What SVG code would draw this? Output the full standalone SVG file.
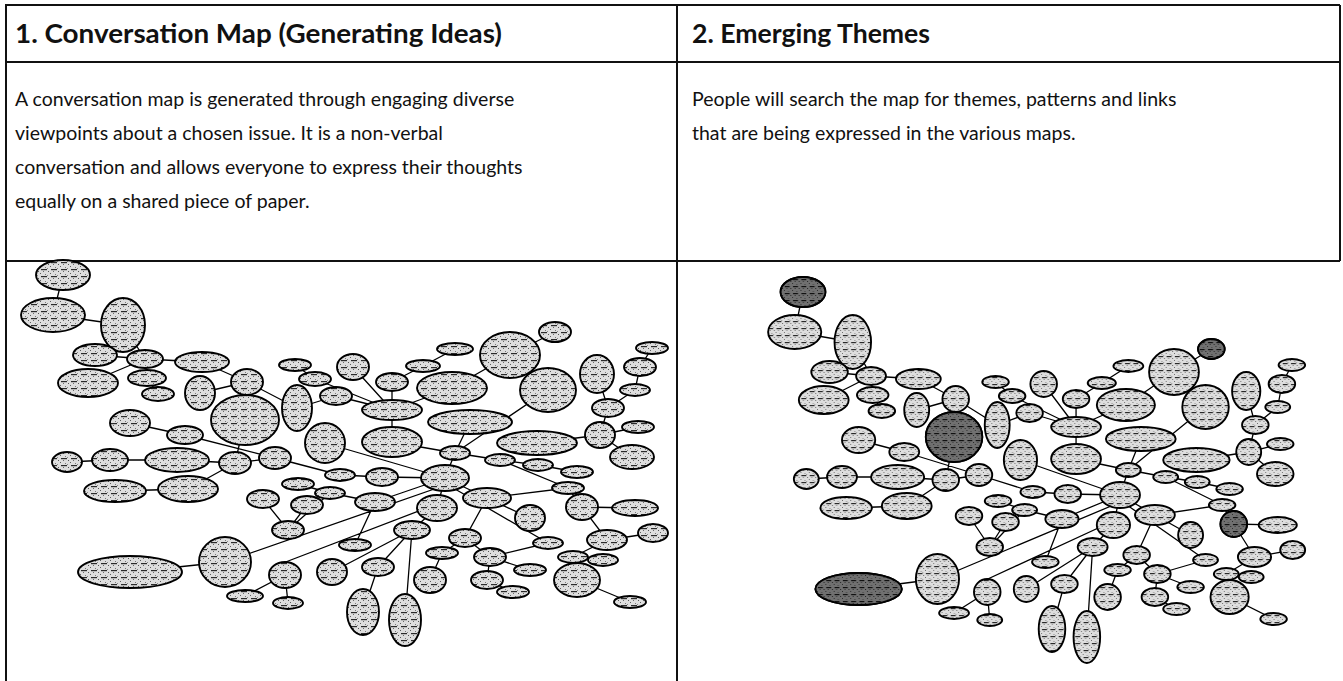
<svg xmlns="http://www.w3.org/2000/svg" width="1343" height="681" viewBox="0 0 1343 681">
<defs>
<style>
.t{font-family:Lato,"Liberation Sans",sans-serif;fill:#111}
.h{font-size:27px;font-weight:700}
.p{font-size:19.5px}
.rule{stroke:#111;stroke-width:2;fill:none}
.b{fill:url(#tx);stroke:#000;stroke-width:1.9;vector-effect:non-scaling-stroke}
.d{fill:url(#txd)}
.e{fill:none;stroke:#000;stroke-width:1.3;vector-effect:non-scaling-stroke}
</style>
<pattern id="tx" width="10" height="7" patternUnits="userSpaceOnUse">
<rect width="10" height="7" fill="#dedede"/>
<rect x="0" y="0" width="1" height="1" fill="#5f5f5f"/>
<rect x="5" y="1" width="1" height="1" fill="#7a7a7a"/>
<rect x="3" y="5" width="1" height="1" fill="#6a6a6a"/>
<rect x="8" y="5" width="1" height="1" fill="#555"/>
<rect x="7" y="2" width="1" height="1" fill="#888"/>
<rect x="1" y="3" width="6" height="1.2" fill="#2a2a2a"/>
</pattern>
<pattern id="txd" width="10" height="7" patternUnits="userSpaceOnUse">
<rect width="10" height="7" fill="#707070"/>
<rect x="0" y="0" width="1" height="1" fill="#222"/>
<rect x="5" y="1" width="1" height="1" fill="#333"/>
<rect x="3" y="5" width="1" height="1" fill="#222"/>
<rect x="8" y="5" width="1" height="1" fill="#111"/>
<rect x="1" y="3" width="6" height="1.2" fill="#111"/>
</pattern>
</defs>
<rect width="1343" height="681" fill="#fff"/>

<g id="table">
<path class="rule" d="M5 5H1340M5 62H1340M5 261H1340M6 5V681M677 5V681M1340 5V261"/>
</g>

<g id="headers">
<text class="t h" x="15" y="43" textLength="487" lengthAdjust="spacingAndGlyphs">1. Conversation Map (Generating Ideas)</text>
<text class="t h" x="692" y="43" textLength="238" lengthAdjust="spacingAndGlyphs">2. Emerging Themes</text>
</g>

<g id="descriptions">
<text class="t p" x="15" y="106">A conversation map is generated through engaging diverse</text>
<text class="t p" x="15" y="140">viewpoints about a chosen issue. It is a non-verbal</text>
<text class="t p" x="15" y="174">conversation and allows everyone to express their thoughts</text>
<text class="t p" x="15" y="208">equally on a shared piece of paper.</text>
<text class="t p" x="692" y="106">People will search the map for themes, patterns and links</text>
<text class="t p" x="692" y="140">that are being expressed in the various maps.</text>
</g>

<g id="mapL">
<g id="connectors">
<path class="e" d="M63 275L53 315M53 315L123 325M123 325L145 359M95 355L145 359M145 359L202 362M145 359L147 378M88 383L145 359M147 378L158 394M202 362L247 382M200 393L247 382M247 382L297 408M295 365L315 379M315 379L392 410M297 408L336 396M336 396L392 410M353 367L392 410M392 382L392 410M392 382L423 366M423 366L455 349M392 410L452 388M452 388L510 355M510 355L555 332M392 410L392 442M392 442L455 453M470 422L455 453M548 390L455 453M455 453L445 478M537 443L600 435M600 435L608 408M608 408L635 390M635 390L640 367M640 367L652 348M597 374L608 408M600 435L632 457M600 435L638 427M245 420L235 463M130 423L185 435M185 435L275 458M325 443L445 478M67 462L110 460M110 460L177 460M177 460L235 463M235 463L275 458M275 458L340 475M340 475L382 477M382 477L445 478M115 491L188 489M188 489L235 463M298 484L330 493M263 499L288 530M307 505L288 530M288 530L330 493M330 493L375 502M375 502L445 478M225 562L130 572M225 562L440 487M283 563L437 504M285 575L245 596M285 575L288 603M437 508L445 478M437 508L412 530M412 530L332 572M412 530L378 567M412 530L405 620M378 567L363 612M375 502L355 545M487 498L445 478M487 498L465 538M487 498L530 518M487 498L568 488M455 489L548 543M490 557L548 543M465 538L442 553M465 538L490 557M442 553L430 580M490 557L487 580M487 580L513 592M490 557L530 570M500 460L455 453M500 460L538 465M538 465L577 472M500 460L568 488M568 488L582 507M582 507L635 508M582 507L607 540M607 540L653 533M607 540L573 557M573 557L603 560M573 557L577 580M577 580L630 602"/>
</g>
<g id="n1"><ellipse class="b" cx="63" cy="275" rx="27" ry="15"/></g>
<g id="n2"><ellipse class="b" cx="53" cy="315" rx="32" ry="17"/></g>
<g id="n3"><ellipse class="b" cx="123" cy="325" rx="22" ry="27"/></g>
<g id="n4"><ellipse class="b" cx="95" cy="355" rx="22" ry="11"/></g>
<g id="n5"><ellipse class="b" cx="145" cy="359" rx="18" ry="9"/></g>
<g id="n6"><ellipse class="b" cx="202" cy="362" rx="27" ry="10"/></g>
<g id="n7"><ellipse class="b" cx="88" cy="383" rx="30" ry="14"/></g>
<g id="n8"><ellipse class="b" cx="147" cy="378" rx="19" ry="8"/></g>
<g id="n9"><ellipse class="b" cx="158" cy="394" rx="16" ry="7"/></g>
<g id="n10"><ellipse class="b" cx="200" cy="393" rx="15" ry="17"/></g>
<g id="n11"><ellipse class="b" cx="247" cy="382" rx="16" ry="13"/></g>
<g id="n12"><ellipse class="b" cx="295" cy="365" rx="16" ry="6"/></g>
<g id="n13"><ellipse class="b" cx="315" cy="379" rx="16" ry="7"/></g>
<g id="n14"><ellipse class="b" cx="297" cy="408" rx="15" ry="23"/></g>
<g id="n15"><ellipse class="b" cx="245" cy="420" rx="34" ry="25"/></g>
<g id="n16"><ellipse class="b" cx="130" cy="423" rx="20" ry="13"/></g>
<g id="n17"><ellipse class="b" cx="185" cy="435" rx="18" ry="9"/></g>
<g id="n18"><ellipse class="b" cx="325" cy="443" rx="20" ry="20"/></g>
<g id="n19"><ellipse class="b" cx="336" cy="396" rx="16" ry="9"/></g>
<g id="n20"><ellipse class="b" cx="353" cy="367" rx="16" ry="13"/></g>
<g id="n21"><ellipse class="b" cx="392" cy="382" rx="16" ry="9"/></g>
<g id="n22"><ellipse class="b" cx="423" cy="366" rx="17" ry="6"/></g>
<g id="n23"><ellipse class="b" cx="455" cy="349" rx="18" ry="6"/></g>
<g id="n24"><ellipse class="b" cx="392" cy="410" rx="30" ry="10"/></g>
<g id="n25"><ellipse class="b" cx="452" cy="388" rx="35" ry="16"/></g>
<g id="n26"><ellipse class="b" cx="510" cy="355" rx="30" ry="23"/></g>
<g id="n27"><ellipse class="b" cx="555" cy="332" rx="16" ry="10"/></g>
<g id="n28"><ellipse class="b" cx="548" cy="390" rx="28" ry="22"/></g>
<g id="n29"><ellipse class="b" cx="597" cy="374" rx="17" ry="19"/></g>
<g id="n30"><ellipse class="b" cx="652" cy="348" rx="16" ry="6"/></g>
<g id="n31"><ellipse class="b" cx="640" cy="367" rx="16" ry="9"/></g>
<g id="n32"><ellipse class="b" cx="635" cy="390" rx="15" ry="6"/></g>
<g id="n33"><ellipse class="b" cx="608" cy="408" rx="16" ry="9"/></g>
<g id="n34"><ellipse class="b" cx="470" cy="422" rx="42" ry="12"/></g>
<g id="n35"><ellipse class="b" cx="392" cy="442" rx="30" ry="15"/></g>
<g id="n36"><ellipse class="b" cx="537" cy="443" rx="40" ry="12"/></g>
<g id="n37"><ellipse class="b" cx="600" cy="435" rx="15" ry="13"/></g>
<g id="n38"><ellipse class="b" cx="638" cy="427" rx="16" ry="6"/></g>
<g id="n39"><ellipse class="b" cx="632" cy="457" rx="22" ry="12"/></g>
<g id="n40"><ellipse class="b" cx="455" cy="453" rx="15" ry="7"/></g>
<g id="n41"><ellipse class="b" cx="67" cy="462" rx="15" ry="10"/></g>
<g id="n42"><ellipse class="b" cx="110" cy="460" rx="18" ry="11"/></g>
<g id="n43"><ellipse class="b" cx="177" cy="460" rx="32" ry="12"/></g>
<g id="n44"><ellipse class="b" cx="235" cy="463" rx="16" ry="11"/></g>
<g id="n45"><ellipse class="b" cx="275" cy="458" rx="16" ry="11"/></g>
<g id="n46"><ellipse class="b" cx="115" cy="491" rx="31" ry="11"/></g>
<g id="n47"><ellipse class="b" cx="188" cy="489" rx="30" ry="13"/></g>
<g id="n48"><ellipse class="b" cx="298" cy="484" rx="16" ry="6"/></g>
<g id="n49"><ellipse class="b" cx="263" cy="499" rx="16" ry="9"/></g>
<g id="n50"><ellipse class="b" cx="307" cy="505" rx="16" ry="9"/></g>
<g id="n51"><ellipse class="b" cx="288" cy="530" rx="16" ry="9"/></g>
<g id="n52"><ellipse class="b" cx="225" cy="562" rx="26" ry="25"/></g>
<g id="n53"><ellipse class="b" cx="130" cy="572" rx="52" ry="16"/></g>
<g id="n54"><ellipse class="b" cx="285" cy="575" rx="16" ry="13"/></g>
<g id="n55"><ellipse class="b" cx="245" cy="596" rx="18" ry="6"/></g>
<g id="n56"><ellipse class="b" cx="288" cy="603" rx="15" ry="6"/></g>
<g id="n57"><ellipse class="b" cx="332" cy="572" rx="15" ry="13"/></g>
<g id="n58"><ellipse class="b" cx="445" cy="478" rx="24" ry="13"/></g>
<g id="n59"><ellipse class="b" cx="382" cy="477" rx="16" ry="9"/></g>
<g id="n60"><ellipse class="b" cx="340" cy="475" rx="15" ry="6"/></g>
<g id="n61"><ellipse class="b" cx="330" cy="493" rx="15" ry="6"/></g>
<g id="n62"><ellipse class="b" cx="375" cy="502" rx="20" ry="9"/></g>
<g id="n63"><ellipse class="b" cx="437" cy="508" rx="20" ry="13"/></g>
<g id="n64"><ellipse class="b" cx="487" cy="498" rx="24" ry="10"/></g>
<g id="n65"><ellipse class="b" cx="500" cy="460" rx="15" ry="6"/></g>
<g id="n66"><ellipse class="b" cx="538" cy="465" rx="15" ry="6"/></g>
<g id="n67"><ellipse class="b" cx="577" cy="472" rx="16" ry="6"/></g>
<g id="n68"><ellipse class="b" cx="568" cy="488" rx="16" ry="6"/></g>
<g id="n69"><ellipse class="b" cx="582" cy="507" rx="16" ry="13"/></g>
<g id="n70"><ellipse class="b" cx="635" cy="508" rx="23" ry="8"/></g>
<g id="n71"><ellipse class="b" cx="530" cy="518" rx="15" ry="13"/></g>
<g id="n72"><ellipse class="b" cx="412" cy="530" rx="18" ry="9"/></g>
<g id="n73"><ellipse class="b" cx="465" cy="538" rx="16" ry="9"/></g>
<g id="n74"><ellipse class="b" cx="607" cy="540" rx="20" ry="10"/></g>
<g id="n75"><ellipse class="b" cx="653" cy="533" rx="15" ry="9"/></g>
<g id="n76"><ellipse class="b" cx="548" cy="543" rx="15" ry="6"/></g>
<g id="n77"><ellipse class="b" cx="355" cy="545" rx="16" ry="6"/></g>
<g id="n78"><ellipse class="b" cx="442" cy="553" rx="16" ry="6"/></g>
<g id="n79"><ellipse class="b" cx="490" cy="557" rx="16" ry="9"/></g>
<g id="n80"><ellipse class="b" cx="573" cy="557" rx="15" ry="6"/></g>
<g id="n81"><ellipse class="b" cx="603" cy="560" rx="15" ry="6"/></g>
<g id="n82"><ellipse class="b" cx="378" cy="567" rx="16" ry="9"/></g>
<g id="n83"><ellipse class="b" cx="430" cy="580" rx="16" ry="13"/></g>
<g id="n84"><ellipse class="b" cx="530" cy="570" rx="16" ry="6"/></g>
<g id="n85"><ellipse class="b" cx="487" cy="580" rx="16" ry="9"/></g>
<g id="n86"><ellipse class="b" cx="577" cy="580" rx="23" ry="17"/></g>
<g id="n87"><ellipse class="b" cx="513" cy="592" rx="16" ry="6"/></g>
<g id="n88"><ellipse class="b" cx="363" cy="612" rx="16" ry="23"/></g>
<g id="n89"><ellipse class="b" cx="405" cy="620" rx="16" ry="26"/></g>
<g id="n90"><ellipse class="b" cx="630" cy="602" rx="16" ry="6"/></g>
</g>

<g id="mapR">
<use href="#mapL" transform="matrix(0.83 0 0 1 750.7 17)"/>
<g id="themes" transform="matrix(0.83 0 0 1 750.7 17)">
<ellipse class="b d" cx="63" cy="275" rx="27" ry="15"/>
<ellipse class="b d" cx="245" cy="420" rx="34" ry="25"/>
<ellipse class="b d" cx="555" cy="332" rx="16" ry="10"/>
<ellipse class="b d" cx="582" cy="507" rx="16" ry="13"/>
<ellipse class="b d" cx="130" cy="572" rx="52" ry="16"/>
</g>
</g>
</svg>
